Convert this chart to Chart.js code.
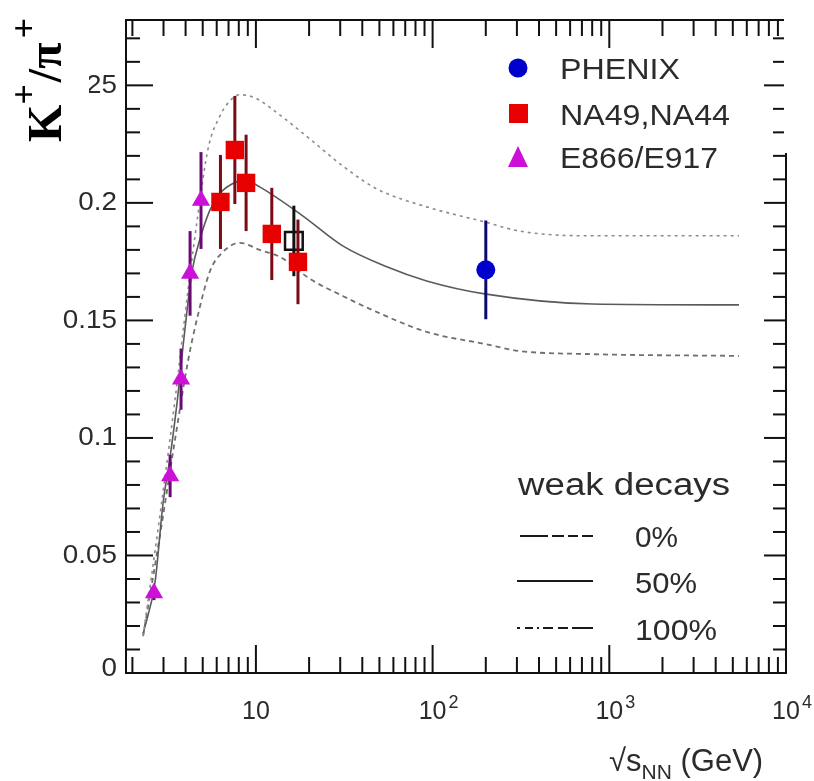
<!DOCTYPE html>
<html><head><meta charset="utf-8"><title>K+/pi+ vs sqrt(s_NN)</title>
<script src="https://cdn.jsdelivr.net/npm/chart.js@4.4.1/dist/chart.umd.min.js"></script>
<style>html,body{margin:0;padding:0;background:#fff;overflow:hidden}#box{position:relative;width:814px;height:781px}canvas{display:block}</style>
</head><body><div id="box"><canvas id="c" width="814" height="781"></canvas></div>
<script>
// ---------------- data ----------------
const phenixE = [200];
const phenixR = [0.1715];
const phenixErr = [0.021];

const na49E = [6.3, 7.6, 8.8, 12.3, 17.3];
const na49R = [0.2004, 0.2225, 0.2085, 0.1868, 0.1749];
const na49Err = [0.020, 0.023, 0.0205, 0.0196, 0.018];

const na44E = [16.4];
const na44R = [0.1838];
const na44Err = [0.015];

const e866E = [2.65, 3.27, 3.77, 4.24, 4.89];
const e866R = [0.034, 0.0838, 0.125, 0.170, 0.201];
const e866Err = [0.003, 0.009, 0.013, 0.018, 0.0206];

// statistical-model curves (weak decay feed-down 0%, 50%, 100%)
const curve0E   = [2.30, 2.87, 3.49, 4.13, 4.70, 5.36, 6.26, 7.13, 8.12, 9.87, 12.8, 20.2, 31, 48.2, 92.5, 197, 310, 742, 5420];
const curve0R   = [0.0157, 0.0677, 0.1166, 0.163, 0.195, 0.223, 0.237, 0.2434, 0.246, 0.2447, 0.239, 0.2272, 0.2157, 0.206, 0.1983, 0.1919, 0.188, 0.186, 0.186];
const curve50E  = [2.30, 2.69, 2.98, 3.27, 3.58, 3.87, 4.13, 4.35, 4.83, 5.50, 6.26, 7.32, 8.67, 10.5, 18.4, 31, 55, 92.5, 197, 800, 5420];
const curve50R  = [0.0166, 0.039, 0.072, 0.092, 0.115, 0.139, 0.158, 0.171, 0.1847, 0.197, 0.204, 0.208, 0.2098, 0.2068, 0.1945, 0.1817, 0.1728, 0.1668, 0.1613, 0.157, 0.1566];
const curve100E = [2.30, 2.87, 3.49, 4.13, 4.64, 5.50, 6.42, 8.12, 10.5, 13.7, 20.2, 31, 48.2, 92.5, 197, 310, 742, 5420];
const curve100R = [0.0157, 0.059, 0.0996, 0.1328, 0.1506, 0.171, 0.1787, 0.183, 0.180, 0.177, 0.1677, 0.1604, 0.1536, 0.1451, 0.140, 0.137, 0.1357, 0.1349];

// axis ticks / labels
const yTickValues = [0, 0.05, 0.1, 0.15, 0.2, 0.25];
const yTickLabels = ['0', '0.05', '0.1', '0.15', '0.2', '0.25'];
const xTickValues = [10, 100, 1000, 10000];
const xTickBase = ['10', '10', '10', '10'];
const xTickExp = ['', '2', '3', '4'];
const legendLabels = ['PHENIX', 'NA49,NA44', 'E866/E917'];
const decayLabels = ['0%', '50%', '100%'];

// ---------------- helpers ----------------
const pts = (xs, ys) => xs.map((v, i) => ({x: v, y: ys[i]}));
const TXT = '#2b2b2b';
function sText(ctx, txt, x, y, font, width, align) {
  ctx.font = font;
  const w = ctx.measureText(txt).width;
  const s = width ? width / w : 1;
  const x0 = align === 'right' ? x - w * s : align === 'center' ? x - w * s / 2 : x;
  ctx.save(); ctx.translate(x0, y); ctx.scale(s, 1); ctx.textAlign = 'left'; ctx.fillText(txt, 0, 0); ctx.restore();
  return w * s;
}
function seg(ctx, x1, y1, x2, y2) { ctx.beginPath(); ctx.moveTo(x1, y1); ctx.lineTo(x2, y2); ctx.stroke(); }

// error bars drawn just before each marker dataset
const errorBars = {
  id: 'errorBars',
  beforeDatasetDraw(chart, args) {
    const ds = chart.data.datasets[args.index];
    if (!ds.errors) return;
    const {ctx, scales: {x, y}} = chart;
    ctx.save(); ctx.strokeStyle = ds.errorColor; ctx.lineWidth = 3;
    ds.data.forEach((p, i) => {
      const px = x.getPixelForValue(p.x);
      seg(ctx, px, y.getPixelForValue(p.y - ds.errors[i]), px, y.getPixelForValue(p.y + ds.errors[i]));
    });
    ctx.restore();
  }
};

const frameAndText = {
  id: 'frameAndText',
  afterDraw(chart) {
    const {ctx, chartArea: {left, right, top, bottom}, scales: {x, y}} = chart;
    ctx.save();
    ctx.strokeStyle = '#111'; ctx.lineWidth = 2;
    // ticks on all four sides (inside)
    for (let i = 0; i <= 27; i++) {
      const v = i / 100; const py = y.getPixelForValue(v);
      const major = i % 5 === 0;
      seg(ctx, left, py, left + (major ? 27 : 14), py);
      seg(ctx, right, py, right - (major ? 22 : 13), py);
    }
    for (let d = 0; d <= 4; d++) {
      for (let m = 1; m <= 9; m++) {
        const v = m * Math.pow(10, d);
        if (v < x.min || v > x.max) continue;
        const px = x.getPixelForValue(v); const major = m === 1;
        seg(ctx, px, bottom, px, bottom - (major ? 28 : 16));
        seg(ctx, px, top, px, top + (major ? 28 : 16));
      }
    }
    ctx.strokeRect(left, top, right - left, bottom - top);
    // cut-out at top right of the reference
    ctx.fillStyle = '#fff'; ctx.fillRect(right - 2, 0, 40, 153);

    // y tick labels
    ctx.fillStyle = TXT; ctx.textBaseline = 'middle';
    yTickValues.forEach((v, i) => {
      ctx.font = '26px "Liberation Sans", Arial, sans-serif';
      const w = ctx.measureText(yTickLabels[i]).width;
      sText(ctx, yTickLabels[i], 117, y.getPixelForValue(v) - (v === 0 ? 4 : 0), ctx.font, w * 1.07, 'right');
    });
    // x tick labels with exponents
    ctx.textBaseline = 'alphabetic';
    xTickValues.forEach((v, i) => {
      const px = x.getPixelForValue(v);
      ctx.font = '25px "Liberation Sans", Arial, sans-serif';
      const w = ctx.measureText(xTickBase[i]).width;
      ctx.textAlign = 'center'; ctx.fillText(xTickBase[i], px, 719);
      if (xTickExp[i]) { ctx.font = '18px "Liberation Sans", Arial, sans-serif'; ctx.textAlign = 'left'; ctx.fillText(xTickExp[i], px + w / 2 + 2, 708); }
    });
    // x axis title
    ctx.textAlign = 'left';
    let xx = 609;
    ctx.font = '31px "Liberation Sans", Arial, sans-serif'; ctx.fillText('\u221As', xx, 771); xx += ctx.measureText('\u221As').width;
    ctx.font = '21px "Liberation Sans", Arial, sans-serif'; ctx.fillText('NN', xx, 779); xx += ctx.measureText('NN').width;
    ctx.font = '31px "Liberation Sans", Arial, sans-serif'; ctx.fillText(' (GeV)', xx, 771);

    // y axis title with white background box
    ctx.fillStyle = '#fff'; ctx.fillRect(0, 0, 89, 111);
    ctx.fillStyle = '#000';
    ctx.save(); ctx.translate(61, 142); ctx.rotate(-Math.PI / 2);
    let tx = 0;
    ctx.font = 'bold 48px "Liberation Serif", "Times New Roman", serif'; ctx.fillText('K', tx, 0); tx += ctx.measureText('K').width;
    ctx.font = 'bold 36px "Liberation Serif", serif'; ctx.fillText('+', tx, -25); tx += ctx.measureText('+').width + 2;
    ctx.font = 'bold 48px "Liberation Serif", serif'; ctx.fillText('/\u03C0', tx, 0); tx += ctx.measureText('/\u03C0').width + 4;
    ctx.font = 'bold 36px "Liberation Serif", serif'; ctx.fillText('+', tx, -25);
    ctx.restore();

    // top legend
    ctx.fillStyle = '#0000cc'; ctx.beginPath(); ctx.arc(518, 68, 9.5, 0, 2 * Math.PI); ctx.fill();
    ctx.fillStyle = '#e60000'; ctx.fillRect(509, 104, 19, 19);
    ctx.fillStyle = '#cc10d8'; ctx.beginPath(); ctx.moveTo(518, 146); ctx.lineTo(528, 167); ctx.lineTo(508, 167); ctx.closePath(); ctx.fill();
    ctx.fillStyle = TXT;
    const lf = '30px "Liberation Sans", Arial, sans-serif';
    sText(ctx, legendLabels[0], 560, 79, lf, 120);
    sText(ctx, legendLabels[1], 560, 125, lf, 170);
    sText(ctx, legendLabels[2], 560, 168, lf, 158);

    // weak-decay legend
    sText(ctx, 'weak decays', 518, 495, '31px "Liberation Sans", Arial, sans-serif', 212);
    sText(ctx, decayLabels[0], 635, 547, lf, 43);
    sText(ctx, decayLabels[1], 635, 593, lf, 62);
    sText(ctx, decayLabels[2], 635, 640, lf, 82);
    ctx.strokeStyle = '#1a1a1a'; ctx.lineWidth = 2;
    ctx.setLineDash([28, 4, 12, 4, 10, 4, 11]); seg(ctx, 520, 536, 593, 536);
    ctx.setLineDash([]); seg(ctx, 517, 581, 593, 581);
    ctx.setLineDash([3, 5, 8, 4, 2, 4, 10, 5, 10, 4, 21]); seg(ctx, 517, 628, 593, 628);
    ctx.restore();
  }
};

new Chart(document.getElementById('c'), {
  type: 'scatter',
  data: {
    datasets: [
      {label: 'PHENIX', data: pts(phenixE, phenixR), errors: phenixErr, errorColor: '#0a0a6e',
       pointStyle: 'circle', pointRadius: 9.5, backgroundColor: '#0000cc', borderWidth: 0, order: 1},
      {label: 'NA44', data: pts(na44E, na44R), errors: na44Err, errorColor: '#111',
       pointStyle: 'rect', pointRadius: 12.5, backgroundColor: 'rgba(255,255,255,0)', borderColor: '#111', borderWidth: 2.5, order: 2},
      {label: 'NA49', data: pts(na49E, na49R), errors: na49Err, errorColor: '#7a0a14',
       pointStyle: 'rect', pointRadius: 13, backgroundColor: '#e60000', borderWidth: 0, order: 1},
      {label: 'E866/E917', data: pts(e866E, e866R), errors: e866Err, errorColor: '#6a0a74',
       pointStyle: 'triangle', pointRadius: 10.5, backgroundColor: '#cc10d8', borderWidth: 0, order: 1},
      {label: '0%', data: pts(curve0E, curve0R), showLine: true, pointRadius: 0, borderColor: '#8c8c8c',
       borderWidth: 1.6, borderDash: [3, 4], cubicInterpolationMode: 'monotone', order: 5},
      {label: '50%', data: pts(curve50E, curve50R), showLine: true, pointRadius: 0, borderColor: '#5a5a5a',
       borderWidth: 1.6, cubicInterpolationMode: 'monotone', order: 5},
      {label: '100%', data: pts(curve100E, curve100R), showLine: true, pointRadius: 0, borderColor: '#707070',
       borderWidth: 1.8, borderDash: [5, 4], cubicInterpolationMode: 'monotone', order: 5}
    ]
  },
  options: {
    responsive: false, animation: false,
    layout: {padding: {left: 0, top: 20, right: 28, bottom: 0}},
    plugins: {legend: {display: false}, tooltip: {enabled: false}},
    scales: {
      x: {type: 'logarithmic', min: 1.84, max: 10000, grid: {display: false}, border: {display: false},
          ticks: {display: false}, afterFit: s => { s.height = 108; }},
      y: {type: 'linear', min: 0, max: 0.2778, grid: {display: false}, border: {display: false},
          ticks: {display: false}, afterFit: s => { s.width = 126; }}
    }
  },
  plugins: [errorBars, frameAndText]
});
</script></body></html>
